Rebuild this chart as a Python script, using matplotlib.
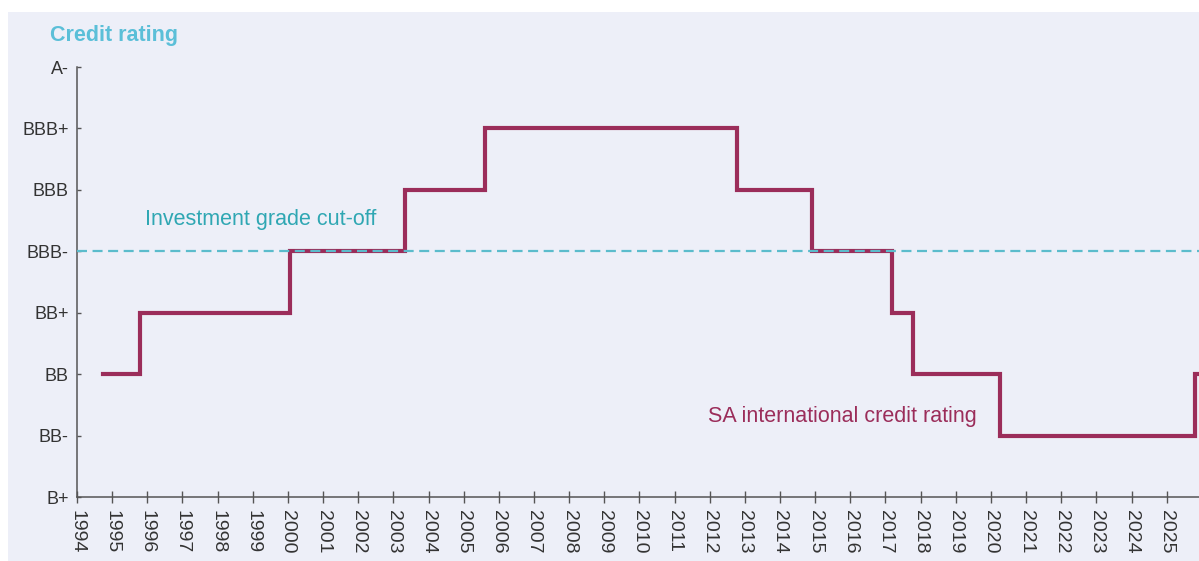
import matplotlib
matplotlib.use("Agg")
import matplotlib.pyplot as plt
from matplotlib.patches import Rectangle

plt.rcParams['font.family'] = ['Liberation Sans', 'DejaVu Sans']

# rating scale, bottom to top
ratings = ["B+", "BB-", "BB", "BB+", "BBB-", "BBB", "BBB+", "A-"]
years = list(range(1994, 2026))

# SA rating history (change dates)
change_dates = [1994.74, 1995.79, 2000.06, 2003.33, 2005.6, 2012.78,
                2014.9, 2017.18, 2017.78, 2020.26, 2025.8, 2025.92]
change_rating = ["BB", "BB+", "BBB-", "BBB", "BBB+", "BBB",
                 "BBB-", "BB+", "BB", "BB-", "BB", "BB"]
cutoff = "BBB-"

bg = '#edeff8'
maroon = '#9b2d5a'
cyan = '#5bbccc'

W, H = 1199, 561
fig = plt.figure(figsize=(W / 100, H / 100), dpi=100, facecolor='white')
# light panel, white strip on top and left like the screenshot
fig.patches.append(Rectangle((8 / W, -0.1), 1.1, 0.1 + (H - 12) / H, transform=fig.transFigure,
                             facecolor=bg, edgecolor='none', zorder=-5))

left, right = 77, 1199
top, bottom = 67, 497
ax = fig.add_axes([left / W, (H - bottom) / H, (right - left) / W, (bottom - top) / H])
ax.set_zorder(2)
ax.set_facecolor('none')

yvals = [ratings.index(r) for r in change_rating]
ax.step(change_dates, yvals, where='post', color=maroon, lw=3, zorder=3,
        solid_joinstyle='miter', clip_on=False)
ax.axhline(ratings.index(cutoff), color=cyan, lw=1.6, dashes=(4.5, 2.5), zorder=4)

ax.set_xlim(1994, 1994 + (right - left) / 35.15)
ax.set_ylim(0, len(ratings) - 1)
ax.set_xticks(years)
ax.set_xticklabels([str(y) for y in years], rotation=270)
ax.set_yticks(range(len(ratings)))
ax.set_yticklabels(ratings)

for s in ['top', 'right']:
    ax.spines[s].set_visible(False)
for s in ['left', 'bottom']:
    ax.spines[s].set_color('#555555')
    ax.spines[s].set_linewidth(1.1)

ax.tick_params(axis='y', direction='in', length=3, width=1, color='#555555',
               labelsize=13, labelcolor='#333333', pad=6)
ax.tick_params(axis='x', direction='inout', length=8.6, width=1, color='#555555',
               labelsize=14, labelcolor='#333333', pad=5)

ax.text(1995.93, 4.43, "Investment grade cut-off", color='#2fa7b3', fontsize=15.5,
        va='baseline', ha='left')
ax.text(2011.95, 1.22, "SA international credit rating", color=maroon, fontsize=15.5,
        va='baseline', ha='left')
fig.text(50 / W, (H - 41) / H, "Credit rating", color='#5bbfd8', fontsize=15.5,
         fontweight='bold', va='baseline', ha='left')

fig.savefig("out.png", dpi=100, facecolor=fig.get_facecolor())
